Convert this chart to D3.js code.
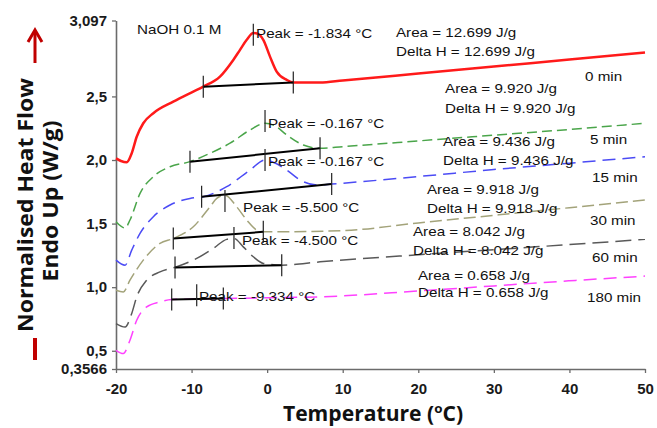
<!DOCTYPE html>
<html><head><meta charset="utf-8">
<script src="https://cdn.jsdelivr.net/npm/d3@7"></script>
<style>body{margin:0;background:#fff} svg{display:block}</style>
</head><body><svg id="c" width="657" height="428"></svg>
<script>
// ---- data ----
const seriesNames = ["0 min","5 min","15 min","30 min","60 min","180 min"];
const t0 = [-20,-19.34,-18.58,-17.92,-17.26,-16.39,-15.06,-12.42,-9.77,-8.45,-6.24,-4.48,-3.59,-2.70,-1.83,-1.2,-0.51,0.38,1.26,2.59,3.46,7,10,20,30,40,50];
const h0 = [2.013,1.992,1.982,2.053,2.183,2.289,2.368,2.459,2.538,2.577,2.656,2.787,2.866,2.945,2.998,2.992,2.945,2.813,2.695,2.630,2.609,2.609,2.625,2.68,2.735,2.79,2.845];
const t5 = [-20,-18.8,-18.15,-16.82,-15.06,-12.85,-10.21,-7.56,-4.91,-2.27,-0.28,1.04,2.59,4.79,7,10,20,30,40,50];
const h5 = [1.514,1.465,1.528,1.738,1.869,1.947,1.987,2.053,2.132,2.236,2.289,2.268,2.197,2.118,2.092,2.105,2.15,2.195,2.24,2.289];
const t15 = [-20,-18.8,-17.92,-16.82,-15.06,-12.85,-10.21,-8.45,-5.35,-2.27,-0.28,1.04,2.59,4.35,6.56,8.54,20,30,40,50];
const h15 = [1.213,1.173,1.291,1.423,1.554,1.646,1.698,1.711,1.79,1.921,2.0,1.976,1.921,1.843,1.803,1.811,1.87,1.925,1.975,2.026];
const t30 = [-20,-19.03,-18.15,-16.39,-14.18,-12.42,-9.77,-7.56,-6.67,-5.58,-4.03,-2.70,-1.38,-0.51,10,20,30,40,50];
const h30 = [0.976,0.963,1.055,1.213,1.344,1.383,1.475,1.632,1.698,1.724,1.632,1.528,1.449,1.435,1.445,1.505,1.565,1.625,1.685];
const t60 = [-20,-18.8,-17.92,-17.26,-15.94,-14.18,-11.97,-9.32,-7.12,-5.35,-4.39,-3.16,-1.83,-0.51,1.93,7,20,30,40,50];
const h60 = [0.714,0.687,0.793,0.924,1.055,1.12,1.16,1.226,1.305,1.376,1.383,1.317,1.239,1.187,1.173,1.199,1.255,1.295,1.335,1.376];
const t180 = [-20,-19.03,-18.15,-17.26,-15.94,-14.18,-12.63,-9.32,-5.80,0.38,7,20,30,40,50];
const h180 = [0.504,0.478,0.583,0.74,0.845,0.884,0.903,0.907,0.911,0.917,0.924,0.97,1.01,1.05,1.087];

// integration baselines and peak markers (temperature, heat flow)
const baseStartT = [-8.45,-10.21,-8.67,-12.42,-12.19,-12.63];
const baseStartH = [2.577,1.987,1.711,1.383,1.155,0.903];
const baseEndT   = [3.46,7.0,8.54,-0.51,1.93,-5.80];
const baseEndH   = [2.609,2.092,1.811,1.435,1.173,0.911];
const peakT      = [-1.83,-0.28,-0.28,-5.58,-4.39,-9.32];
const peakH      = [2.984,2.307,2.0,1.677,1.386,0.937];

const peakLabels = ["Peak = -1.834 °C","Peak = -0.167 °C","Peak = -0.167 °C","Peak = -5.500 °C","Peak = -4.500 °C","Peak = -9.334 °C"];
const peakLabelT = [-1.47,0.11,0.11,-3.19,-3.33,-9.02];
const peakLabelH = [2.992,2.291,1.992,1.630,1.370,0.929];

const areaLabels  = ["Area = 12.699 J/g","Area = 9.920 J/g","Area = 9.436 J/g","Area = 9.918 J/g","Area = 8.042 J/g","Area = 0.658 J/g"];
const deltaLabels = ["Delta H = 12.699 J/g","Delta H = 9.920 J/g","Delta H = 9.436 J/g","Delta H = 9.918 J/g","Delta H = 8.042 J/g","Delta H = 0.658 J/g"];
const areaLabelT  = [17.05,23.54,23.27,21.15,19.30,19.96];
const areaLabelH  = [3.0,2.559,2.142,1.772,1.441,1.094];
const deltaLabelH = [2.850,2.409,2.0,1.622,1.291,0.961];
const nameLabelT  = [42.06,42.72,42.99,42.72,42.99,42.33];
const nameLabelH  = [2.654,2.165,1.866,1.528,1.236,0.921];

const xTicks = [-20,-10,0,10,20,30,40,50];
const xTickLabels = ["-20","-10","0","10","20","30","40","50"];
const yTicks = [0.3566,0.5,1.0,1.5,2.0,2.5,3.097];
const yTickLabels = ["0,3566","0,5","1,0","1,5","2,0","2,5","3,097"];

const title = "NaOH 0.1 M";
const xTitle = "Temperature (";
const yTitle1 = "Normalised Heat Flow";
const yTitle2 = "Endo Up (W/g)";

// ---- styles ----
const colors = ["#ff1a1a","#4aa54a","#4b4bf5","#a3a37a","#595959","#ff40ff"];
const dashes = [null,"10,5","13,7","12,5","16,7","13,7"];
const widths = [2.5,1.5,1.5,1.5,1.5,1.5];
const stretch = 1.17;

const svg = d3.select("#c");
const x = d3.scaleLinear().domain([-20,50]).range([116,645]);
const y = d3.scaleLinear().domain([0.3566,3.097]).range([369,20.5]);

// axes
const gx = svg.append("g").attr("transform",`translate(0,${y(0.3566)})`)
  .call(d3.axisBottom(x).tickValues(xTicks).tickFormat((d,i)=>xTickLabels[i]).tickSize(4).tickSizeOuter(0).tickPadding(10));
const gy = svg.append("g").attr("transform",`translate(${x(-20)},0)`)
  .call(d3.axisLeft(y).tickValues(yTicks).tickFormat((d,i)=>yTickLabels[i]).tickSize(4).tickSizeOuter(0).tickPadding(5));
[gx,gy].forEach(g=>{
  g.select(".domain").attr("stroke","#6b6b6b").attr("stroke-width",1.6);
  g.selectAll(".tick line").attr("stroke","#6b6b6b").attr("stroke-width",1.3);
  g.selectAll(".tick text").attr("fill","#1a1a1a").attr("font-family","Liberation Sans, Arial, sans-serif")
    .attr("font-size",15).attr("font-weight","bold");
});

// curves
const series = [[t0,h0],[t5,h5],[t15,h15],[t30,h30],[t60,h60],[t180,h180]];
const line = d3.line().x(d=>x(d[0])).y(d=>y(d[1])).curve(d3.curveMonotoneX);
series.map((s,i)=>i).reverse().forEach(i=>{
  const [tt,hh] = series[i];
  svg.append("path").datum(tt.map((t,k)=>[t,hh[k]]))
    .attr("d",line).attr("fill","none").attr("stroke",colors[i])
    .attr("stroke-width",widths[i]).attr("stroke-dasharray",dashes[i])
    .attr("stroke-linejoin","round");
});

// baselines and markers
const tickHalf = 11;
seriesNames.forEach((n,i)=>{
  svg.append("line").attr("x1",x(baseStartT[i])).attr("y1",y(baseStartH[i]))
    .attr("x2",x(baseEndT[i])).attr("y2",y(baseEndH[i]))
    .attr("stroke","#000").attr("stroke-width",2);
  [[baseStartT[i],baseStartH[i]],[baseEndT[i],baseEndH[i]],[peakT[i],peakH[i]]].forEach(p=>{
    svg.append("line").attr("x1",x(p[0])).attr("x2",x(p[0]))
      .attr("y1",y(p[1])-tickHalf).attr("y2",y(p[1])+tickHalf)
      .attr("stroke","#222").attr("stroke-width",1.2);
  });
});

// annotations
const ann = svg.append("g").attr("font-family","Liberation Sans, Arial, sans-serif")
  .attr("font-size",13).attr("fill","#111");
function txt(t,tx,hy){
  ann.append("text").attr("transform",`translate(${x(tx)},${y(hy)}) scale(${stretch},1)`)
    .attr("dy","0.35em").text(t);
}
txt(title,-17.22,3.024);
seriesNames.forEach((n,i)=>{
  txt(peakLabels[i],peakLabelT[i],peakLabelH[i]);
  txt(areaLabels[i],areaLabelT[i],areaLabelH[i]);
  txt(deltaLabels[i],areaLabelT[i],deltaLabelH[i]);
  txt(n,nameLabelT[i],nameLabelH[i]);
});

// axis titles
const xt = svg.append("text").attr("transform",`translate(373,421) scale(1.03,1)`)
  .attr("text-anchor","middle").attr("font-family","Open Sans, sans-serif")
  .attr("font-weight","bold").attr("font-size",20.5).attr("fill","#111");
xt.append("tspan").text(xTitle);
xt.append("tspan").attr("font-size",13).attr("dy",-8).text("o");
xt.append("tspan").attr("dy",8).text("C)");

const yt = svg.append("g").attr("font-family","Open Sans, sans-serif")
  .attr("font-weight","bold").attr("font-size",21.5).attr("fill","#111").attr("text-anchor","middle");
yt.append("text").attr("transform","translate(33,205) rotate(-90) scale(1.07,1)").text(yTitle1);
yt.append("text").attr("transform","translate(58,201) rotate(-90) scale(1.07,1)").text(yTitle2);

// red arrow and bar
svg.append("line").attr("x1",35).attr("x2",35).attr("y1",63).attr("y2",31)
  .attr("stroke","#c00000").attr("stroke-width",3);
svg.append("polyline").attr("points","28,42 35,30 42,42").attr("fill","none")
  .attr("stroke","#c00000").attr("stroke-width",3);
svg.append("line").attr("x1",35).attr("x2",35).attr("y1",338).attr("y2",360)
  .attr("stroke","#c00000").attr("stroke-width",4);
</script></body></html>
